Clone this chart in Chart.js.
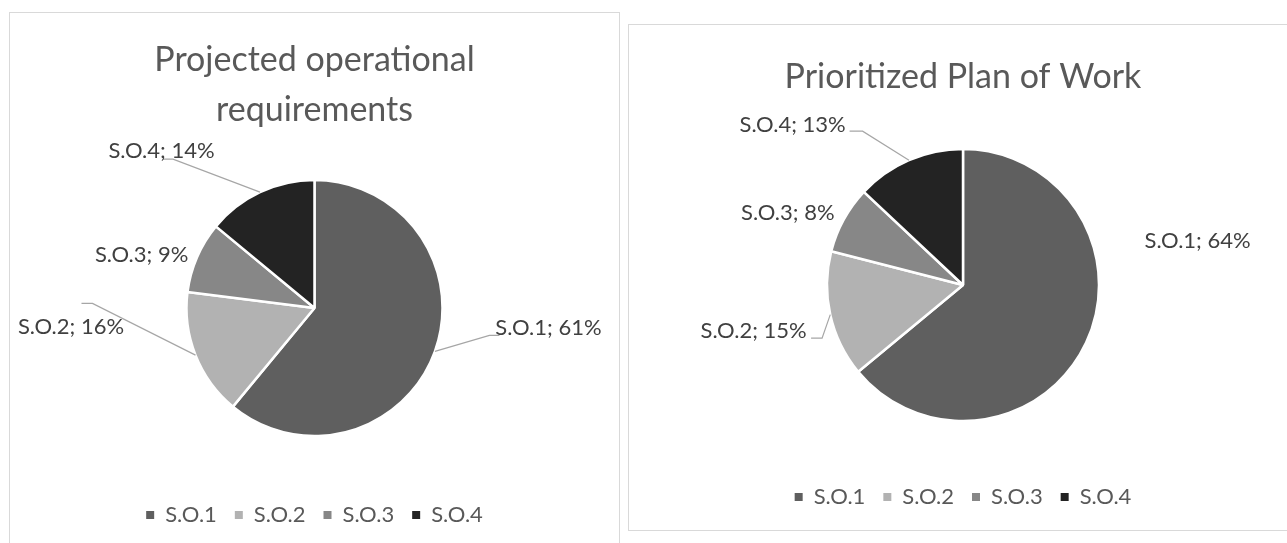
<!DOCTYPE html>
<html>
<head>
<meta charset="utf-8">
<script src="https://cdn.jsdelivr.net/npm/chart.js@4.4.1/dist/chart.umd.min.js"></script>
<style>
    html, body { margin: 0; padding: 0; background: #fff; overflow: hidden; }
    .box { position: absolute; border: 1px solid #d9d9d9; background: #fff; }
    .box canvas { display: block; }
</style>
</head>
<body>
<div class="box" style="left:9px;top:12px;width:609px;height:543px">
    <canvas id="graficoRequisitos" width="609" height="543"></canvas>
</div>
<div class="box" style="left:628px;top:24px;width:668px;height:505px">
    <canvas id="graficoPlano" width="668" height="505"></canvas>
</div>
<script>
// --- Dados ---
const categorias = ['S.O.1', 'S.O.2', 'S.O.3', 'S.O.4'];
const requisitosPct = [61, 16, 9, 14];   // Projected operational requirements
const planoPct = [64, 15, 8, 13];        // Prioritized Plan of Work
const coresFatias = ['#5f5f5f', '#b2b2b2', '#878787', '#232323'];

const FONTE = 'Lato, "Open Sans", sans-serif';

// Rótulos fora da fatia, com linha guia opcional (deslocamentos a partir da borda da fatia)
const criarRotulos = (posicoes) => ({
    id: 'rotulosFatias',
    afterDatasetsDraw(chart) {
        const { ctx } = chart;
        const meta = chart.getDatasetMeta(0);
        const valores = chart.data.datasets[0].data;
        ctx.save();
        ctx.font = '22px ' + FONTE;
        ctx.textAlign = 'center';
        ctx.textBaseline = 'middle';
        meta.data.forEach((arco, i) => {
            const { x, y, startAngle, endAngle, outerRadius } =
                arco.getProps(['x', 'y', 'startAngle', 'endAngle', 'outerRadius'], true);
            const meio = (startAngle + endAngle) / 2;
            const bx = x + Math.cos(meio) * outerRadius;
            const by = y + Math.sin(meio) * outerRadius;
            const p = posicoes[i];
            const lx = bx + p.dx;
            const ly = by + p.dy;
            if (p.guia) {
                ctx.strokeStyle = '#a6a6a6';
                ctx.lineWidth = 1.2;
                ctx.beginPath();
                ctx.moveTo(bx, by);
                ctx.lineTo(lx + p.guia[0], ly + p.guia[1]);
                ctx.lineTo(lx + p.guia[2], ly + p.guia[3]);
                ctx.stroke();
            }
            ctx.fillStyle = '#404040';
            ctx.fillText(`${chart.data.labels[i]}; ${valores[i]}%`, lx, ly);
        });
        ctx.restore();
    }
});

// legenda sem o contorno branco das fatias
const legendaBase = Chart.overrides.doughnut.plugins.legend.labels.generateLabels;
const gerarLegenda = (chart) => legendaBase(chart).map(item => ({ ...item, lineWidth: 0, strokeStyle: 'rgba(0,0,0,0)' }));

const opcoesPizza = (titulo, tituloPad, legendaPadInferior) => ({
    responsive: false,
    animation: false,
    events: [],
    layout: { padding: { top: 0, bottom: legendaPadInferior, left: 0, right: 0 } },
    plugins: {
        tooltip: { enabled: false },
        title: {
            display: true,
            text: titulo,
            color: '#595959',
            font: { family: FONTE, size: 34, weight: 'normal', lineHeight: 50 / 34 },
            padding: tituloPad
        },
        legend: {
            position: 'bottom',
            labels: {
                color: '#595959',
                font: { family: FONTE, size: 22 },
                boxWidth: 8,
                boxHeight: 8,
                padding: 18,
                generateLabels: gerarLegenda
            }
        }
    }
});

const montarPizza = (id, valores, titulo, raio, tituloPad, legendaPad, posicoes) => {
    return new Chart(document.getElementById(id), {
        type: 'pie',
        data: {
            labels: categorias,
            datasets: [{
                data: valores,
                backgroundColor: coresFatias,
                borderColor: '#ffffff',
                borderWidth: 2.5,
                radius: raio
            }]
        },
        options: opcoesPizza(titulo, tituloPad, legendaPad),
        plugins: [criarRotulos(posicoes)]
    });
};

montarPizza('graficoRequisitos', requisitosPct,
    ['Projected operational', 'requirements'], 128,
    { top: 22, bottom: -5 }, 20,
    [
        { dx: 113.5, dy: -23.5, guia: [-59, 7.5, -49, 7.5] },
        { dx: -124.5, dy: -28.7, guia: [21.5, -23, 10.5, -23] },
        { dx: -55.4, dy: -2.6 },
        { dx: -98.5, dy: -41, guia: [11.5, 8, 1.5, 8] }
    ]);

montarPizza('graficoPlano', planoPct,
    'Prioritized Plan of Work', 136,
    { top: 27, bottom: 0 }, 12,
    [
        { dx: 111.5, dy: -101.5 },
        { dx: -76.7, dy: 16, guia: [68.5, 7.5, 57.5, 7.5] },
        { dx: -56, dy: -7 },
        { dx: -116.4, dy: -35, guia: [70, 6, 57, 6] }
    ]);
</script>
</body>
</html>
